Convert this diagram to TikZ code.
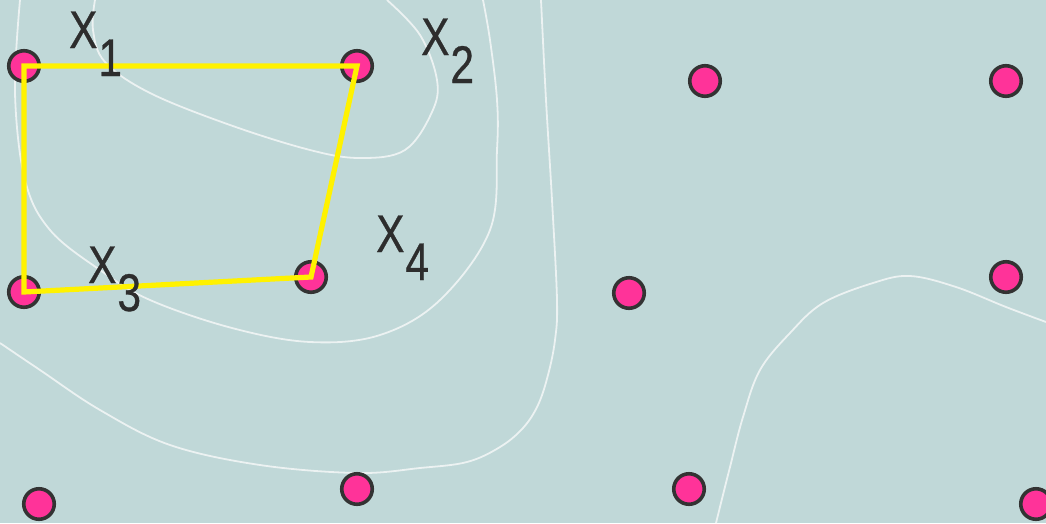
\documentclass[tikz,border=0pt]{standalone}
\usepackage{fontspec}
\setmainfont{Liberation Sans}[FakeStretch=0.8,FakeBold=0.6]
\definecolor{bg}{RGB}{192,216,216}
\definecolor{contour}{RGB}{236,242,242}
\definecolor{dotfill}{RGB}{255,51,153}
\definecolor{dotline}{RGB}{51,51,51}
\definecolor{labtext}{RGB}{45,45,45}
\tikzset{
  dotnode/.style={circle, draw=dotline, fill=dotfill, line width=3.6pt, minimum size=30.5pt, inner sep=0pt},
  contourline/.style={draw=contour, line width=1.8pt},
  quad/.style={draw=yellow, line width=5.2pt, line join=miter},
  lab/.style={anchor=base west, inner sep=0pt, text=labtext, font=\fontsize{53}{60}\selectfont}
}
\newcommand{\lbl}[1]{X\kern1pt\raisebox{-28pt}{#1}}
\begin{document}
\begin{tikzpicture}[x=1pt,y=-1pt]
\fill[bg] (0,0) rectangle (1046,523);
\useasboundingbox (0,0) rectangle (1046,523);
% contours
\draw[contourline] plot[smooth, tension=0.6] coordinates {(95,0) (93,30) (105,62) (150,93) (230,125) (310,150) (360,158) (405,150) (432,112) (437,80) (420,35) (387,0)};
\draw[contourline] plot[smooth, tension=0.6] coordinates {(20,0) (15,93) (25,180) (50,230) (100,270) (150,300) (232,328) (310,342) (380,335) (440,300) (490,230) (497,150) (497,100) (490,40) (483,0)};
\draw[contourline] plot[smooth, tension=0.6] coordinates {(0,343) (40,370) (100,410) (170,445) (260,465) (357,473) (420,468) (467,462) (500,447) (523,428) (538,405) (548,375) (555,340) (557,300) (552,200) (546,100) (541,0)};
\draw[contourline] plot[smooth, tension=0.6] coordinates {(716,523) (730,467) (743,417) (760,370) (790,333) (823,303) (873,283) (910,276) (956,287) (1006,307) (1046,322)};
% dots
\node[dotnode] (x1) at (24,66) {};
\node[dotnode] (x2) at (357,66) {};
\node[dotnode] (d3) at (705,81) {};
\node[dotnode] (d4) at (1006,81) {};
\node[dotnode] (x3) at (24,292) {};
\node[dotnode] (x4) at (311,277) {};
\node[dotnode] (d7) at (629,293) {};
\node[dotnode] (d8) at (1006,277) {};
\node[dotnode] (d9) at (39,504) {};
\node[dotnode] (d10) at (357,489) {};
\node[dotnode] (d11) at (689,489) {};
\node[dotnode] (d12) at (1036,504) {};
% quadrilateral
\draw[quad] (x1.center) -- (x2.center) -- (x4.center) -- (x3.center) -- cycle;
% labels
\node[lab] (l1) at (69,48) {\lbl{1}};
\node[lab] (l2) at (421,55) {\lbl{2}};
\node[lab] (l3) at (88,283) {\lbl{3}};
\node[lab] (l4) at (376,252) {\lbl{4}};
\end{tikzpicture}
\end{document}
